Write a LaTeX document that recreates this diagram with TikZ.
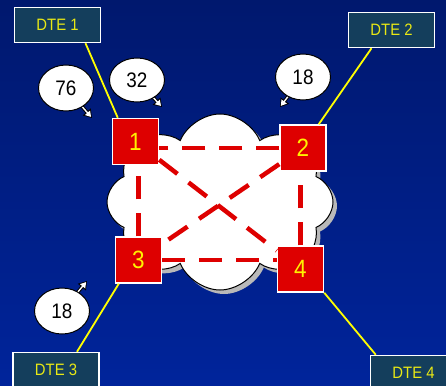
\documentclass[tikz,border=0pt]{standalone}
\usepackage{fontspec}
\setmainfont{Liberation Sans}[FakeStretch=0.9]
\usetikzlibrary{positioning, arrows.meta, shapes.geometric, shapes.symbols, shadows}

\definecolor{skyTop}{RGB}{0,24,110}
\definecolor{skyBottom}{RGB}{0,36,155}
\definecolor{dteFill}{RGB}{20,62,92}
\definecolor{dteText}{RGB}{232,232,20}
\definecolor{siteRed}{RGB}{222,0,0}
\definecolor{wireYellow}{RGB}{255,255,0}

\begin{document}
\begin{tikzpicture}[
		x=1pt, y=-1pt,
		dte/.style={draw=white, line width=1.5pt, fill=dteFill, minimum width=86pt, minimum height=35pt, inner sep=0pt, text=dteText, font=\fontsize{16.5}{18}\selectfont},
		site/.style={draw=white, line width=1.5pt, fill=siteRed, minimum size=46pt, inner sep=0pt, text=yellow, font=\fontsize{25}{28}\selectfont},
		link/.style={draw=siteRed, line width=4.5pt, dash pattern=on 23pt off 14pt},
		wire/.style={draw=wireYellow, line width=1.8pt},
		bubble/.style={ellipse, draw=black, line width=1pt, fill=white, minimum width=55pt, minimum height=46pt, inner sep=0pt, font=\fontsize{21}{23}\selectfont},
		tailout/.style={black, line width=3.4pt, -{Triangle[length=8pt, width=10pt]}},
		tailin/.style={white, line width=1.4pt, shorten >=1.4pt, -{Triangle[length=5.5pt, width=6.5pt]}}
		]
		
		% Background
		\path[use as bounding box, clip] (0,0) rectangle (446,385);
		\fill[top color=skyTop, bottom color=skyBottom] (0,0) rectangle (446,385);
		
		% Network cloud
		\node[cloud, cloud puffs=8, cloud puff arc=135, cloud ignores aspect, minimum width=226pt, minimum height=176pt, fill=white, draw=black, line width=1pt,
			drop shadow={shadow xshift=4pt, shadow yshift=-4pt, fill=gray!55, opacity=1}] (net) at (220,202) {};
		
		% Switching nodes
		\node[site] (n1) at (135.5,141.5) {1};
		\node[site] (n2) at (303,148) {2};
		\node[site] (n3) at (138.5,260) {3};
		\node[site] (n4) at (300.5,269) {4};
		
		% Virtual circuits
		\draw[link] (n2) -- (n2 -| n1.east);
		\draw[link] (n3) -- (n3 -| n4.west);
		\draw[link] (n3) -- (n3 |- n1.south);
		\draw[link] (n4) -- (n4 |- n2.south);
		\draw[link] (n1) -- (n4);
		\draw[link] (n2) -- (n3);
		
		% Terminals
		\node[dte] (dte1) at (57.5,25) {DTE 1};
		\node[dte] (dte2) at (391.5,30) {DTE 2};
		\node[dte] (dte3) at (56,370) {DTE 3};
		\node[dte] (dte4) at (413.5,373) {DTE 4};
		
		\draw[wire] ([xshift=28pt]dte1.south) -- ([xshift=6pt]n1.north west);
		\draw[wire] ([xshift=-20pt]dte2.south) -- ([xshift=-8pt]n2.north east);
		\draw[wire] ([xshift=21pt]dte3.north) -- ([xshift=4pt]n3.south west);
		\draw[wire] ([xshift=6pt]dte4.north west) -- (n4.south east);
		
		% Channel numbers
		\coordinate (b76) at (66,88);   \coordinate (t76) at (92,118);
		\coordinate (b32) at (137,80);  \coordinate (t32) at (162,107);
		\coordinate (b18a) at (303,77); \coordinate (t18a) at (280,107);
		\coordinate (b18b) at (62,311); \coordinate (t18b) at (87,281);
		
		\foreach \b/\t in {b76/t76, b32/t32, b18a/t18a, b18b/t18b} {
			\draw[tailout] (\b) -- (\t);
			\draw[tailin] (\b) -- (\t);
		}
		
		\node[bubble] (c76) at (b76) {76};
		\node[bubble, minimum height=44pt] (c32) at (b32) {32};
		\node[bubble] (c18a) at (b18a) {18};
		\node[bubble] (c18b) at (b18b) {18};
		
	\end{tikzpicture}
\end{document}
